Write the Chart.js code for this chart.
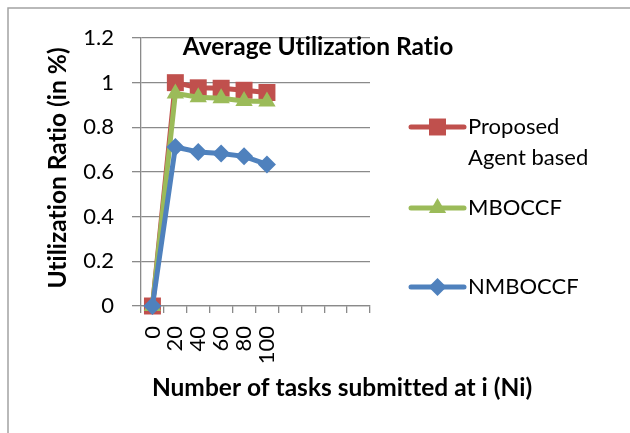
<!DOCTYPE html>
<html><head><meta charset="utf-8">
<script src="https://cdn.jsdelivr.net/npm/chart.js@4/dist/chart.umd.min.js"></script>
<style>html,body{margin:0;padding:0;background:#fff}#wrap{width:630px;height:433px;position:relative}</style>
</head><body><div id="wrap"><canvas id="c" width="630" height="433"></canvas></div>
<script>
// ---- data ----
const categories = ['0', '20', '40', '60', '80', '100', '', '', '', ''];
const proposedValues = [0, 1.0, 0.977, 0.975, 0.966, 0.956];
const mboccfValues = [0, 0.952, 0.935, 0.930, 0.918, 0.916];
const nmboccfValues = [0, 0.712, 0.690, 0.683, 0.670, 0.634];
const yTickValues = [0, 0.2, 0.4, 0.6, 0.8, 1, 1.2];
const seriesNames = [['Proposed', 'Agent based'], ['MBOCCF'], ['NMBOCCF']];
const chartTitle = 'Average Utilization Ratio';
const xTitle = 'Number of tasks submitted at i (Ni)';
const yTitle = 'Utilization Ratio (in %)';

const FONT = 'Lato';
const GRID = '#8a8a8a';
const colors = ['#C0504D', '#9BBB59', '#4F81BD'];
const styles = ['rect', 'triangle', 'rectRot'];
const radii = [12, 10, 9];

const PAD = {left: 30, right: 260, top: 38, bottom: 30};
const AREA = {left: 141, bottom: 306};

function drawMarker(ctx, style, r, x, y, color) {
  ctx.save();
  ctx.fillStyle = color;
  ctx.beginPath();
  if (style === 'rect') {
    const s = Math.SQRT1_2 * r;
    ctx.rect(x - s, y - s, 2 * s, 2 * s);
  } else if (style === 'triangle') {
    let a = 0;
    ctx.moveTo(x + Math.sin(a) * r, y - Math.cos(a) * r);
    a += 2 * Math.PI / 3;
    ctx.lineTo(x + Math.sin(a) * r, y - Math.cos(a) * r);
    a += 2 * Math.PI / 3;
    ctx.lineTo(x + Math.sin(a) * r, y - Math.cos(a) * r);
    ctx.closePath();
  } else {
    ctx.moveTo(x, y - r); ctx.lineTo(x + r, y); ctx.lineTo(x, y + r); ctx.lineTo(x - r, y); ctx.closePath();
  }
  ctx.fill();
  ctx.restore();
}

function noLig(ctx) { if ('letterSpacing' in ctx) ctx.letterSpacing = '0.01px'; }

const decorPlugin = {
  id: 'decor',
  beforeDraw(chart) {
    const ctx = chart.ctx;
    ctx.save();
    ctx.fillStyle = '#fff';
    ctx.fillRect(0, 0, chart.width, chart.height);
    ctx.strokeStyle = '#a3a3a3';
    ctx.lineWidth = 1.5;
    ctx.beginPath();
    ctx.moveTo(8, chart.height); ctx.lineTo(8, 8); ctx.lineTo(chart.width, 8);
    ctx.stroke();
    ctx.restore();
  },
  afterDraw(chart) {
    const ctx = chart.ctx;
    const area = chart.chartArea;
    ctx.save();
    noLig(ctx);
    ctx.fillStyle = '#000';
    ctx.font = 'bold 24.5px ' + FONT;
    ctx.textAlign = 'center';
    ctx.textBaseline = 'middle';
    // chart title (overlaps plot as in reference)
    ctx.fillText(chartTitle, 318, 47);
    // x axis title
    ctx.fillText(xTitle, 342, 388);
    // y axis title
    ctx.save();
    ctx.translate(58, (area.top + area.bottom) / 2 - 4);
    ctx.rotate(-Math.PI / 2);
    ctx.fillText(yTitle, 0, 0);
    ctx.restore();
    // legend
    const ys = [127, 208, 287];
    chart.data.datasets.forEach((ds, i) => {
      const y = ys[i];
      ctx.strokeStyle = ds.borderColor;
      ctx.lineWidth = 5;
      ctx.lineCap = 'round';
      ctx.beginPath(); ctx.moveTo(411, y); ctx.lineTo(464, y); ctx.stroke();
      drawMarker(ctx, styles[i], radii[i], 437.5, y, ds.backgroundColor);
      ctx.fillStyle = '#000';
      ctx.font = '22px ' + FONT;
      ctx.textAlign = 'left';
      ctx.textBaseline = 'middle';
      seriesNames[i].forEach((t, k) => ctx.fillText(t, 468, y + k * 31));
    });
    ctx.restore();
  }
};

const names = seriesNames.map(n => n.join(' '));
const allValues = [proposedValues, mboccfValues, nmboccfValues];

new Chart(document.getElementById('c'), {
  type: 'line',
  data: {
    labels: categories,
    datasets: allValues.map((vals, i) => ({
      label: names[i],
      data: vals,
      borderColor: colors[i],
      backgroundColor: colors[i],
      borderWidth: 5,
      pointStyle: styles[i],
      pointRadius: radii[i],
      pointBorderWidth: 0,
      pointBackgroundColor: colors[i],
      tension: 0,
      fill: false,
      clip: false,
      order: 2 - i
    }))
  },
  options: {
    responsive: false,
    animation: false,
    layout: {padding: PAD},
    plugins: {legend: {display: false}, tooltip: {enabled: false}, title: {display: false}},
    scales: {
      x: {
        type: 'category',
        offset: true,
        grid: {offset: true, drawOnChartArea: false, tickLength: 7, color: GRID, lineWidth: 1.3},
        border: {color: GRID, width: 1.3},
        ticks: {autoSkip: false, maxRotation: 90, minRotation: 90, padding: 13, color: '#000', font: {family: FONT, size: 22}},
        title: {display: false},
        afterFit(s) { s.height = 433 - PAD.bottom - AREA.bottom; }
      },
      y: {
        min: 0, max: 1.2,
        afterBuildTicks(axis) { axis.ticks = yTickValues.map(v => ({value: v})); },
        grid: {color: GRID, lineWidth: 1.3, tickLength: 9},
        border: {color: GRID, width: 1.3},
        ticks: {padding: 18, color: '#000', font: {family: FONT, size: 22}, callback: v => String(v)},
        title: {display: false},
        afterFit(s) { s.width = AREA.left - PAD.left; }
      }
    }
  },
  plugins: [decorPlugin]
});
</script>
</body></html>
